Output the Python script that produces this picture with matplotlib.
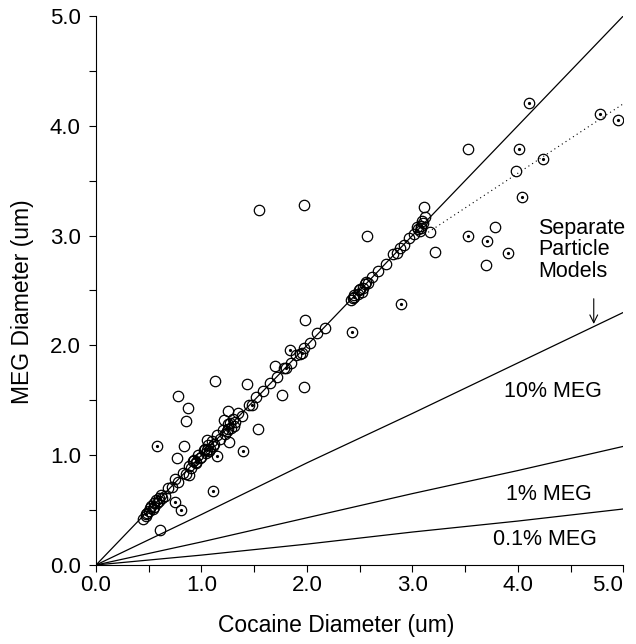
"""
MEG diameter vs cocaine diameter, separate particle model curves
"""

import matplotlib
matplotlib.use('Agg')
from matplotlib import pyplot as plt

plt.rcParams['font.family'] = ['Liberation Sans', 'DejaVu Sans']

# model curves (x = cocaine diameter, y = MEG diameter)
model_x = [0.0, 1.0, 2.0, 3.0, 4.0, 5.0]
meg_10 = [0.0, 0.46, 0.93, 1.38, 1.84, 2.30]
meg_1 = [0.0, 0.21, 0.43, 0.65, 0.86, 1.08]
meg_01 = [0.0, 0.09, 0.19, 0.30, 0.40, 0.51]

# dotted trend for the large particles
dot_x = [3.15, 5.0]
dot_y = [3.03, 4.20]

# open circles near the 1:1 line
line_x = [0.45, 0.48, 0.50, 0.52, 0.55, 0.57, 0.60, 0.62, 0.65, 0.68, 0.72, 0.75,
          0.78, 0.82, 0.85, 0.88, 0.90, 0.92, 0.95, 0.97, 1.00, 1.02, 1.04, 1.06,
          1.08, 1.10, 1.12, 1.15, 1.18, 1.20, 1.22, 1.25, 1.28, 1.30, 1.32, 1.35,
          1.38, 1.45, 1.52, 1.58, 1.65, 1.72, 1.78, 1.85, 1.90, 1.93, 1.97, 2.03,
          2.10, 2.17, 2.42, 2.45, 2.48, 2.50, 2.53, 2.55, 2.58, 2.62, 2.67, 2.75,
          2.82, 2.85, 2.88, 2.92, 2.97, 3.02, 3.05, 3.08, 3.10,
          0.47, 0.51, 0.54, 0.58, 0.63, 0.93, 0.99, 1.03, 1.07, 1.11, 1.24, 1.27,
          1.31, 2.44, 2.49, 2.52, 2.56, 3.04, 3.07, 3.09]
line_y = [0.42, 0.47, 0.49, 0.54, 0.53, 0.59, 0.58, 0.64, 0.63, 0.70, 0.71, 0.78,
          0.76, 0.84, 0.83, 0.90, 0.88, 0.95, 0.93, 1.00, 0.98, 1.05, 1.02, 1.09,
          1.06, 1.13, 1.10, 1.18, 1.15, 1.23, 1.19, 1.28, 1.25, 1.33, 1.30, 1.38,
          1.36, 1.46, 1.53, 1.58, 1.66, 1.71, 1.79, 1.84, 1.91, 1.92, 1.98, 2.02,
          2.11, 2.16, 2.41, 2.46, 2.47, 2.51, 2.52, 2.56, 2.57, 2.62, 2.68, 2.74,
          2.83, 2.84, 2.89, 2.91, 2.98, 3.01, 3.06, 3.07, 3.11,
          0.45, 0.52, 0.51, 0.56, 0.61, 0.96, 0.97, 1.06, 1.04, 1.08, 1.22, 1.29,
          1.27, 2.43, 2.50, 2.49, 2.58, 3.08, 3.04, 3.13]

# open circles away from the line
open_x = [1.55, 1.97, 2.57, 3.53, 3.98, 3.78, 3.70, 3.21, 3.17, 3.11, 3.12, 1.98,
          1.97, 1.70, 1.13, 1.43, 1.76, 0.78, 0.87, 0.85, 1.25, 1.54, 0.83, 0.77,
          0.88, 1.26, 1.05, 0.61, 1.21]
open_y = [3.23, 3.28, 3.00, 3.79, 3.59, 3.08, 2.73, 2.85, 3.03, 3.26, 3.17, 2.23,
          1.62, 1.81, 1.68, 1.65, 1.55, 1.54, 1.43, 1.31, 1.40, 1.24, 1.08, 0.97,
          0.82, 1.12, 1.14, 0.32, 1.32]

# circles with a centre dot
dot_px = [4.11, 4.78, 4.95, 4.01, 4.24, 4.04, 3.53, 3.71, 3.91, 2.89, 2.43, 1.84,
          0.58, 1.39, 1.15, 1.11, 0.75, 0.81, 0.47, 0.55, 0.60, 0.95, 1.05, 1.25,
          1.48, 1.80, 1.95, 2.45, 3.08]
dot_py = [4.21, 4.11, 4.05, 3.79, 3.70, 3.35, 3.00, 2.95, 2.84, 2.38, 2.12, 1.96,
          1.08, 1.04, 0.99, 0.67, 0.57, 0.50, 0.46, 0.56, 0.61, 0.94, 1.05, 1.24,
          1.46, 1.79, 1.93, 2.44, 3.09]

xticks = [0, 1, 2, 3, 4, 5]
xtick_labels = ['0.0', '1.0', '2.0', '3.0', '4.0', '5.0']

fig = plt.figure(figsize=(6.36, 6.44), dpi=100)
ax = fig.add_axes([0.151, 0.1227, 0.829, 0.8525])

ax.plot([0, 5], [0, 5], color='black', lw=0.9)
ax.plot(model_x, meg_10, color='black', lw=0.9)
ax.plot(model_x, meg_1, color='black', lw=0.9)
ax.plot(model_x, meg_01, color='black', lw=0.9)
ax.plot(dot_x, dot_y, color='black', lw=0.8, ls=(0, (1, 3)))

ax.plot(line_x, line_y, 'o', ms=7.5, mfc='none', mec='black', mew=0.9)
ax.plot(open_x, open_y, 'o', ms=7.5, mfc='none', mec='black', mew=0.9)
ax.plot(dot_px, dot_py, 'o', ms=7.5, mfc='none', mec='black', mew=0.9)
ax.plot(dot_px, dot_py, 'o', ms=2.3, mfc='black', mec='black', mew=0)

ax.text(4.19, 2.87, 'Separate\nParticle\nModels', fontsize=15.5, ha='left', va='center',
        linespacing=1.05)
ax.annotate('', xy=(4.72, 2.17), xytext=(4.72, 2.45),
            arrowprops=dict(arrowstyle='->', lw=0.8, color='black', mutation_scale=14))
ax.text(4.33, 1.58, '10% MEG', fontsize=15.5, ha='center', va='center')
ax.text(4.29, 0.64, '1% MEG', fontsize=15.5, ha='center', va='center')
ax.text(4.26, 0.23, '0.1% MEG', fontsize=15.5, ha='center', va='center')

ax.set_xlim(0, 5)
ax.set_ylim(0, 5)
ax.set_xticks(xticks)
ax.set_xticklabels(xtick_labels)
ax.set_yticks(xticks)
ax.set_yticklabels(xtick_labels)
ax.set_xticks([0.5, 1.5, 2.5, 3.5, 4.5], minor=True)
ax.set_yticks([0.5, 1.5, 2.5, 3.5, 4.5], minor=True)
ax.tick_params(which='both', direction='out', length=5, width=0.8, labelsize=16)
ax.tick_params(axis='x', pad=2)
ax.tick_params(axis='y', pad=6)
# last x label pulled in a little so it stays inside the figure
ax.get_xticklabels()[-1].set_horizontalalignment('right')
ax.get_xticklabels()[-1].set_x(5.14)
ax.spines['top'].set_visible(False)
ax.spines['right'].set_visible(False)
ax.spines['left'].set_linewidth(0.8)
ax.spines['bottom'].set_linewidth(0.8)

ax.set_xlabel('Cocaine Diameter (um)', fontsize=16.5)
ax.xaxis.set_label_coords(0.455, -0.11)
ax.xaxis.label.set_va('center')
ax.set_ylabel('MEG Diameter (um)', fontsize=16.5)
ax.yaxis.set_label_coords(-0.14, 0.48)
ax.yaxis.label.set_va('center')

plt.savefig('out.png', dpi=100)
